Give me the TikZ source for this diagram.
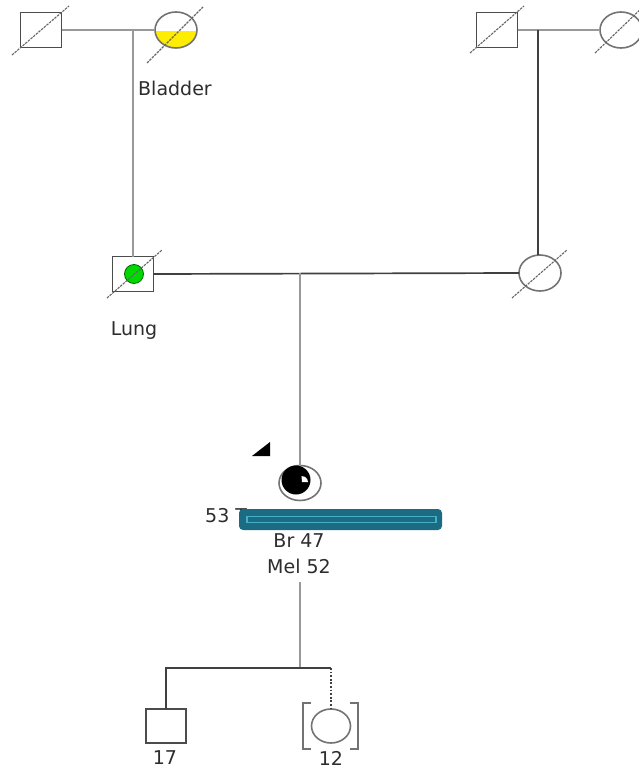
\documentclass[tikz,border=0pt]{standalone}
\usepackage{fontspec}
\setmainfont{DejaVu Sans}
\usetikzlibrary{shapes.geometric}
\definecolor{redact}{RGB}{27,107,130}
\definecolor{redactin}{RGB}{70,175,200}
\definecolor{txt}{RGB}{45,45,45}
\begin{document}
\begin{tikzpicture}[x=1pt,y=-1pt,
  sq/.style={draw=black!70, line width=1.7pt, minimum width=41pt, minimum height=35pt, inner sep=0pt, outer sep=0pt},
  ci/.style={ellipse, draw=black!55, line width=1.6pt, minimum width=42pt, minimum height=36pt, inner sep=0pt, outer sep=0pt},
  lg/.style={draw=black!40, line width=1.9pt},
  ld/.style={draw=black!75, line width=1.7pt},
  dg/.style={draw=black!60, line width=1.1pt, dash pattern=on 2.5pt off 1pt},
  lbl/.style={font=\fontsize{19}{22}\selectfont, text=txt, inner sep=0pt}]
\useasboundingbox (0,0) rectangle (639,771);
% generation I
\node[sq] (A) at (41,30) {};
\begin{scope}
  \clip (176,30) ellipse (21 and 18);
  \fill[yellow!95!orange] (150,31) rectangle (200,52);
\end{scope}
\node[ci] (B) at (176,30) {};
\node[sq] (C) at (497,30) {};
\node[ci] (D) at (621,30) {};
% generation II
\node[sq] (E) at (133,274) {};
\node[circle, draw=green!40!black, fill=green!85!black, line width=0.8pt, minimum size=19pt, inner sep=0pt] (Eg) at (134,274) {};
\node[ci] (F) at (540,273) {};
% proband
\node[ci, minimum height=35pt] (P) at (300,483) {};
\fill[black] (296,480) circle (14.5);
\fill[white] (302,482) -- ++(0:6) arc[start angle=0, end angle=-95, radius=6] -- cycle;
\fill[black] (252,456) -- (270,456) -- (270,442) -- cycle;
% children
\node[sq, minimum width=40pt, minimum height=34pt] (S) at (166,726) {};
\node[ci, minimum width=39pt, minimum height=34pt] (G) at (331,726) {};
\draw[black!55, line width=1.5pt] (311,703) -- (303,703) -- (303,749) -- (311,749);
\draw[black!55, line width=1.5pt] (350,703) -- (358,703) -- (358,749) -- (350,749);
% diagonals
\draw[dg] ([shift={(-29,25)}]A.center) -- ([shift={(28,-24)}]A.center);
\draw[dg] ([shift={(-29,33)}]B.center) -- ([shift={(27,-23)}]B.center);
\draw[dg] ([shift={(-27,23)}]C.center) -- ([shift={(27,-24)}]C.center);
\draw[dg] ([shift={(-26,23)}]D.center) -- ([shift={(24,-25)}]D.center);
\draw[dg] ([shift={(-26,24)}]E.center) -- ([shift={(29,-24)}]E.center);
\draw[dg] ([shift={(-28,25)}]F.center) -- ([shift={(27,-23)}]F.center);
% connectors
\coordinate (m1) at (133,30);
\coordinate (m2) at (538,30);
\coordinate (m3) at (300,273);
\coordinate (p1) at (300,582);
\coordinate (m4) at (300,668);
\coordinate (m5) at (331,668);
\draw[lg] (A.east) -- (B.west);
\draw[lg] (m1) -- (E.north);
\draw[lg] (C.east) -- (D.west);
\draw[ld] (m2) -- (m2 |- F.north);
\draw[ld] (E.east) -- (F.west);
\draw[lg] (m3) -- (P.north);
\draw[lg] (p1) -- (m4);
\draw[ld] (S.north) -- (S.north |- m4) -- (m5);
\draw[black!75, line width=1.8pt, dash pattern=on 1.8pt off 1.8pt] (m5) -- (G.north);
% labels
\node[lbl] (lb) at (175,88) {Bladder};
\node[lbl] (ll) at (134,331) {Lung};
\node[lbl, anchor=west] (l53) at (205,516) {53 T};
\fill[redact, rounded corners=4pt] (239,509) rectangle (442,530);
\draw[redactin, line width=1.2pt] (247,516.5) rectangle (436,522.5);
\node[lbl] (lbr) at (299,541) {Br 47};
\node[lbl] (lmel) at (299,566) {Mel 52};
\node[lbl] (l17) at (165,758) {17};
\node[lbl] (l12) at (331,758) {12};
\end{tikzpicture}
\end{document}
